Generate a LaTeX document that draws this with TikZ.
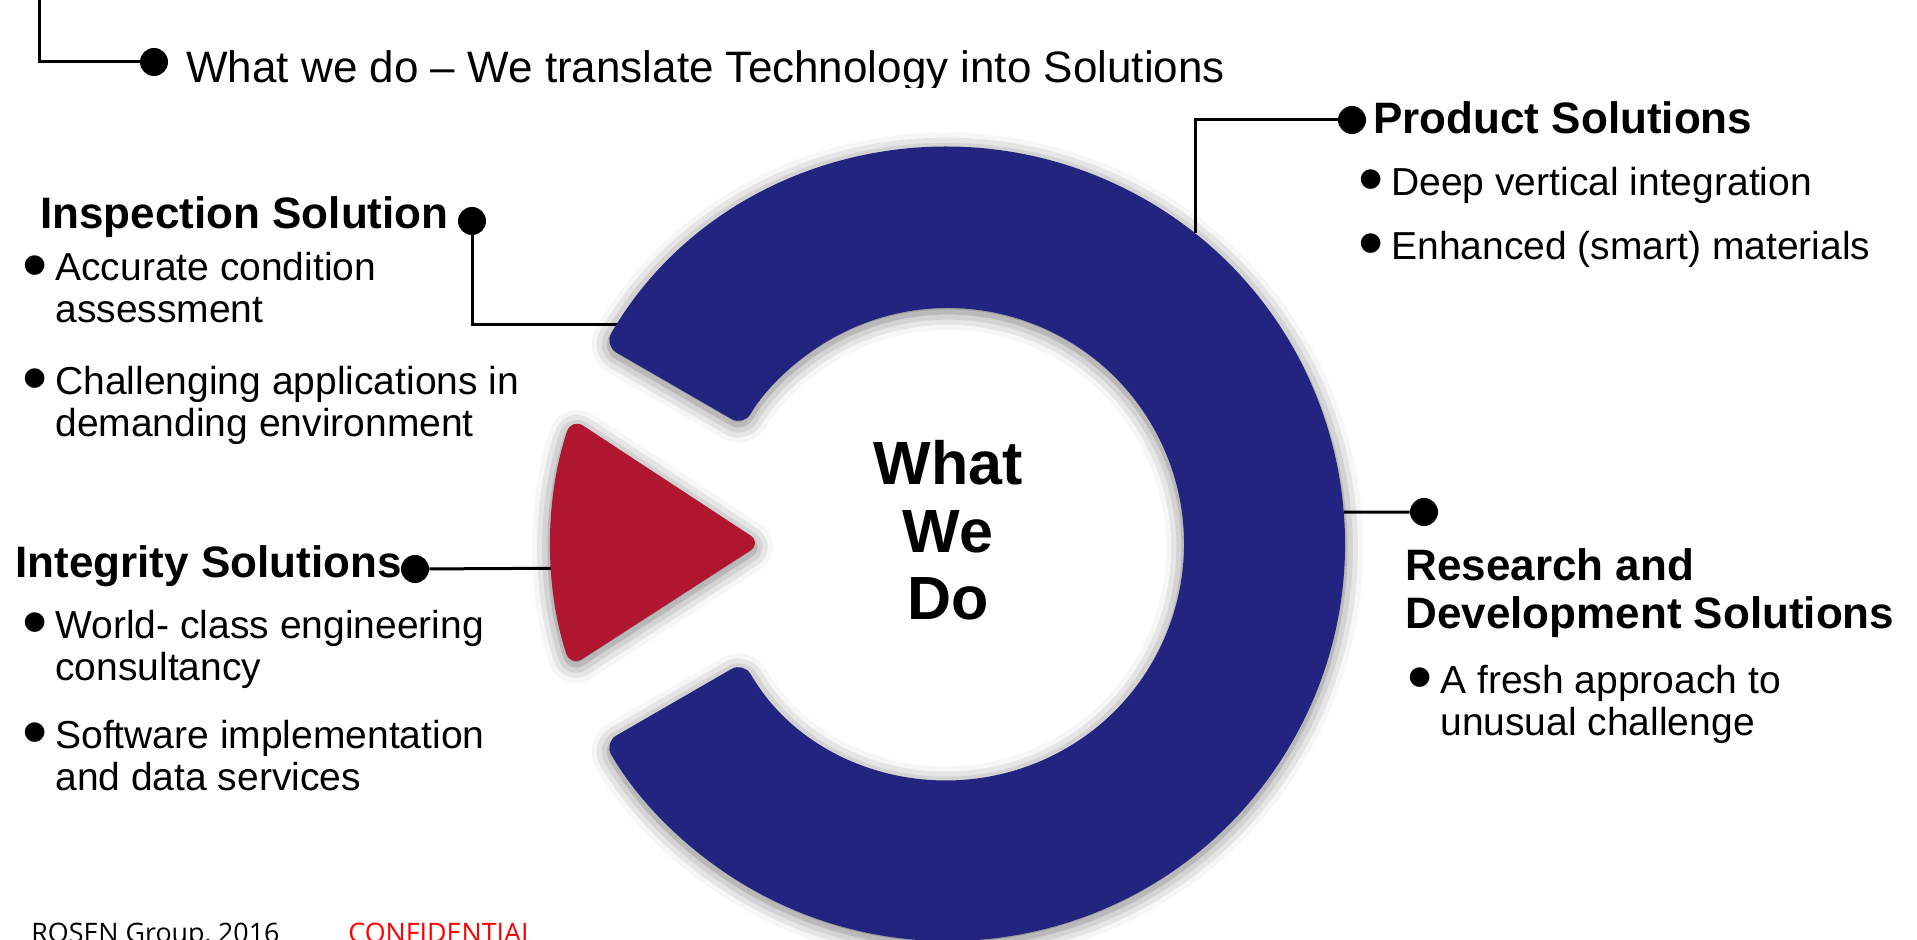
\documentclass[tikz,border=0pt]{standalone}
\usepackage{fontspec}
\setmainfont{Liberation Sans}
\newfontfamily\footfont{Open Sans}
\usetikzlibrary{shadows.blur}
\definecolor{ringblue}{RGB}{35,36,128}
\definecolor{arrowred}{RGB}{176,22,48}
\definecolor{confred}{RGB}{255,0,0}
\tikzset{
    soft-shadow/.style = {blur shadow={shadow xshift=0pt, shadow yshift=-2pt, shadow blur radius=9pt, shadow opacity=55}},
    ring-shape/.style = {fill=ringblue, rounded corners=7pt, soft-shadow},
    arrow-shape/.style = {fill=arrowred, rounded corners=7pt, soft-shadow},
    link/.style = {draw=black, line width=1.5pt},
    link-dot/.style = {circle, fill=black, inner sep=0pt, minimum size=14pt},
    title-text/.style = {font=\fontsize{22}{26}\selectfont, anchor=base west, inner sep=0pt},
    head-text/.style = {font=\fontsize{22}{24}\selectfont\bfseries, anchor=base west, inner sep=0pt},
    item-text/.style = {font=\fontsize{19.5}{21}\selectfont, anchor=base west, inner sep=0pt},
    center-text/.style = {font=\fontsize{30.5}{33.75}\selectfont\bfseries, align=center, inner sep=0pt},
    foot-text/.style = {font=\footfont\fontsize{13.4}{16}\selectfont, anchor=base west, inner sep=0pt},
}
\newcommand{\bul}[1]{\llap{\raisebox{-4pt}{\scalebox{1.85}{\textbullet}}\hspace{4pt}}\begin{tabular}[t]{@{}l@{}}#1\end{tabular}}
\newcommand{\lines}[1]{\begin{tabular}[t]{@{}l@{}}#1\end{tabular}}

\begin{document}
\begin{tikzpicture}[x=0.5pt, y=0.5pt]
\useasboundingbox (0,0) rectangle (1917,939);
\clip (0,0) rectangle (1917,939);

% title line, cut off at the bottom
\begin{scope}
\clip (0,851) rectangle (1917,939);
\node[title-text] (title) at (186,856) {What we do – We translate Technology into Solutions};
\end{scope}
\node[link-dot] (title-dot) at (154,877) {};
\coordinate (title-top) at (39,945);
\draw[link] (title-top) |- (title-dot);

% points on the ring
\coordinate (ring-c) at (948,395);
\coordinate (insp-ring) at ([shift={(146.4:397)}]ring-c);
\coordinate (prod-ring) at ([shift={(51.5:397)}]ring-c);
\coordinate (rd-ring) at ([shift={(4.6:397)}]ring-c);
\coordinate (tri-edge) at ([shift={(183.5:398)}]ring-c);

% dots and connectors
\node[link-dot] (insp-dot) at (472,718) {};
\node[link-dot] (integ-dot) at (415,370) {};
\node[link-dot] (prod-dot) at (1352,819) {};
\node[link-dot] (rd-dot) at (1424,427) {};
\draw[link] (insp-dot) |- (insp-ring);
\draw[link] (integ-dot) -- (tri-edge);
\draw[link] (prod-dot) -| (prod-ring);
\draw[link] (rd-ring) -- (rd-dot);

% ring and arrow
\begin{scope}[shift={(948,395)}]
\path[ring-shape] (150:397) arc[start angle=150, end angle=-150, radius=397]
    -- (-150:236) arc[start angle=-150, end angle=150, radius=236] -- cycle;
\path[arrow-shape] (-186,1) -- (161.5:397) arc[start angle=161.5, end angle=198, radius=397] -- cycle;
\end{scope}
\node[center-text] (what) at (948,408.5) {What\\We\\Do};

% left side
\node[head-text] (insp-head) at (40,710) {Inspection Solution};
\node[item-text] (insp-a) at (55,658) {\bul{Accurate condition\\assessment}};
\node[item-text] (insp-b) at (55,545) {\bul{Challenging applications in\\demanding environment}};
\node[head-text] (integ-head) at (15,362) {Integrity Solutions};
\node[item-text] (integ-a) at (55,301) {\bul{World- class engineering\\consultancy}};
\node[item-text] (integ-b) at (55,191) {\bul{Software implementation\\and data services}};

% right side
\node[head-text] (prod-head) at (1373,805) {Product Solutions};
\node[item-text] (prod-a) at (1391,743) {\bul{Deep vertical integration}};
\node[item-text] (prod-b) at (1391,679) {\bul{Enhanced (smart) materials}};
\node[head-text] (rd-head) at (1405,359) {\lines{Research and\\Development Solutions}};
\node[item-text] (rd-a) at (1440,246) {\bul{A fresh approach to\\unusual challenge}};

% footer
\node[foot-text] (foot-group) at (31,-3) {ROSEN Group, 2016};
\node[foot-text, text=confred] (foot-conf) at (348,-3) {CONFIDENTIAL};
\end{tikzpicture}
\end{document}
